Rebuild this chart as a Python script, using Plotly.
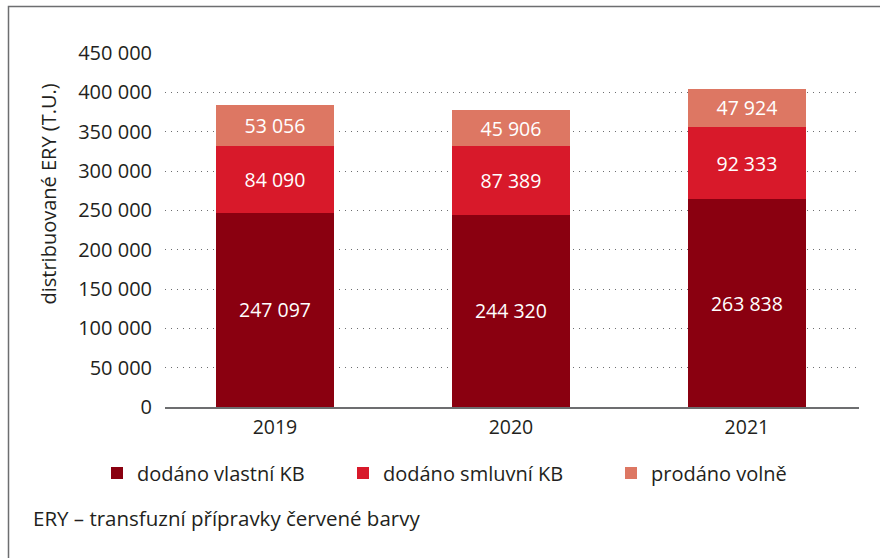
import plotly.graph_objects as go

years = ["2019", "2020", "2021"]
vlastni = [247097, 244320, 263838]
smluvni = [84090, 87389, 92333]
volne = [53056, 45906, 47924]
series_names = ["dodáno vlastní KB", "dodáno smluvní KB", "prodáno volně"]
series_colors = ["#8a0010", "#d8192a", "#dd7763"]
tick_vals = [0, 50000, 100000, 150000, 200000, 250000, 300000, 350000, 400000, 450000]
tick_text = ["0", "50 000", "100 000", "150 000", "200 000", "250 000",
             "300 000", "350 000", "400 000", "450 000"]
y_title = "distribuované ERY (T.U.)"
footnote = "ERY – transfuzní přípravky červené barvy"

FONT = "Open Sans"
TXT = "#231f20"

def fmt(v):
    return f"{v:,}".replace(",", " ")

W, H = 880, 558
ML, MT = 165, 53
PW, PH = 694, 354
MR, MB = W - ML - PW, H - MT - PH

def px_x(x):
    return (x - ML) / PW

def px_y(y):
    return (MT + PH - y) / PH

legend_ids = ["legend", "legend2", "legend3"]
legend_x = [97, 343, 611]

fig = go.Figure()
for name, vals, col, lid in zip(series_names, [vlastni, smluvni, volne],
                                series_colors, legend_ids):
    fig.add_trace(go.Bar(
        x=years, y=vals, name=name, marker=dict(color=col, line=dict(width=0)),
        width=0.5, text=[fmt(v) for v in vals], textposition="inside",
        insidetextanchor="middle", textangle=0, legend=lid,
        textfont=dict(family=FONT, size=19.5, color="white"),
    ))

legend_style = {}
for lid, lx in zip(legend_ids, legend_x):
    legend_style[lid] = dict(orientation="h", x=px_x(lx), xanchor="left",
                             y=px_y(473), yanchor="middle",
                             font=dict(family=FONT, size=20, color=TXT),
                             bgcolor="rgba(0,0,0,0)")

fig.update_layout(
    width=W, height=H, barmode="stack",
    margin=dict(l=ML, r=MR, t=MT, b=MB, autoexpand=False),
    paper_bgcolor="white", plot_bgcolor="white",
    font=dict(family=FONT, size=19, color=TXT),
    uniformtext=dict(minsize=19, mode="show"),
    xaxis=dict(type="category", range=[-0.466, 2.475], showgrid=False,
               showline=True, linecolor="#6d6e70", linewidth=1.5,
               ticks="outside", ticklen=2, tickcolor="rgba(0,0,0,0)",
               tickfont=dict(family=FONT, size=19.5, color=TXT)),
    yaxis=dict(range=[0, 450000], tickvals=tick_vals, ticktext=tick_text,
               showgrid=True, gridcolor="#6d6e70", gridwidth=1.3,
               griddash="1px,5px", zeroline=False,
               ticks="outside", ticklen=8, tickcolor="rgba(0,0,0,0)",
               tickfont=dict(family=FONT, size=20, color=TXT)),
    showlegend=True,
    **legend_style,
)

# y-axis title (placed like the original, above the plot centre)
fig.add_annotation(text=y_title, xref="paper", yref="paper",
                   x=px_x(48), y=px_y(194.5), xanchor="center", yanchor="middle",
                   textangle=-90, showarrow=False,
                   font=dict(family=FONT, size=20, color=TXT))

fig.add_annotation(text=footnote, xref="paper", yref="paper",
                   x=px_x(31), y=px_y(518), xanchor="left", yanchor="middle",
                   showarrow=False, font=dict(family=FONT, size=20.5, color=TXT))

# outer frame
fig.add_shape(type="rect", xref="paper", yref="paper",
              x0=px_x(8.5), x1=px_x(895), y0=px_y(575), y1=px_y(6.5),
              line=dict(color="#6d6e70", width=1.5), layer="below")

fig.write_html("out.html", config={"displayModeBar": False},
               post_script="document.body.style.margin='0';")
